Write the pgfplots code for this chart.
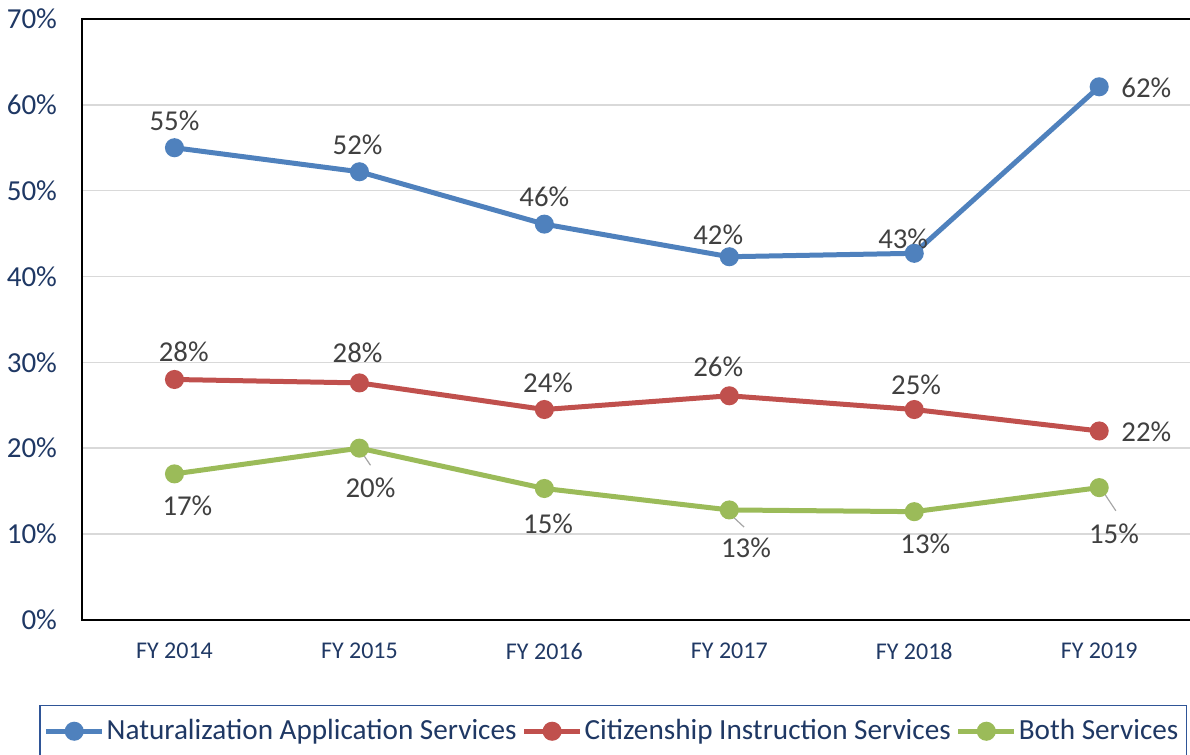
\documentclass[border=0pt]{standalone}
\usepackage{pgfplots}
\pgfplotsset{compat=1.18}
\usepackage{fontspec}
\setmainfont{Carlito}
\definecolor{cblue}{HTML}{4F81BD}
\definecolor{cred}{HTML}{C0504D}
\definecolor{cgreen}{HTML}{9BBB59}
\definecolor{navy}{HTML}{1F3864}
\definecolor{lblgray}{HTML}{404040}
\definecolor{gridgray}{HTML}{D9D9D9}
\definecolor{legborder}{HTML}{2F5597}
\tikzset{
    lbl/.style={font=\fontsize{14.4}{15}\selectfont, text=lblgray, inner sep=0pt},
    leader/.style={draw=gray!70, line width=0.6pt},
}
\begin{document}
\begin{tikzpicture}
\begin{axis}[
    scale only axis,
    width=555pt, height=300.5pt,
    xmin=-0.5, xmax=5.5, ymin=0, ymax=70,
    clip=false,
    /pgf/number format/assume math mode=true,
    xtick={0,1,2,3,4,5},
    xticklabels={FY 2014, FY 2015, FY 2016, FY 2017, FY 2018, FY 2019},
    ytick={0,10,...,70},
    yticklabel={\pgfmathprintnumber{\tick}\%},
    major tick length=0pt,
    ymajorgrids,
    grid style={draw=gridgray, line width=0.8pt},
    axis line style={black, line width=1pt},
    yticklabel style={font=\fontsize{14.5}{15}\selectfont, text=navy, xshift=-9pt},
    xticklabel style={font=\fontsize{12}{12}\selectfont, text=navy, yshift=-8pt},
    every axis plot/.append style={line width=2.5pt, mark=*, mark size=3.5pt},
    legend style={at={(rel axis cs:-0.0388,-0.1415)}, anchor=north west,
        legend columns=-1, draw=legborder, line width=0.8pt,
        font=\fontsize{14.6}{15}\selectfont, text=navy,
        inner xsep=2pt, inner ysep=5pt,
        /tikz/every odd column/.append style={column sep=-1pt},
        /tikz/every even column/.append style={column sep=0.5pt}},
    legend image code/.code={
        \draw[#1, mark=none] (0pt,0pt) -- (28pt,0pt);
        \draw[#1, only marks] plot coordinates {(14pt,0pt)};
    },
]
\addplot[cblue] coordinates {(0,55.0) (1,52.2) (2,46.1) (3,42.3) (4,42.7) (5,62.1)};
\addplot[cred] coordinates {(0,28.0) (1,27.6) (2,24.5) (3,26.1) (4,24.5) (5,22.0)};
\addplot[cgreen] coordinates {(0,17.0) (1,20.0) (2,15.3) (3,12.8) (4,12.6) (5,15.4)};
\legend{Naturalization Application Services, Citizenship Instruction Services, Both Services}

% data labels
\node[lbl] at (axis cs:0,58.1) {55\%};
\node[lbl] at (axis cs:0.99,55.3) {52\%};
\node[lbl] at (axis cs:2.0,49.3) {46\%};
\node[lbl] at (axis cs:2.94,44.8) {42\%};
\node[lbl] at (axis cs:3.94,44.4) {43\%};
\node[lbl] at (axis cs:5.255,62.0) {62\%};
\node[lbl] at (axis cs:0.05,31.2) {28\%};
\node[lbl] at (axis cs:0.99,31.1) {28\%};
\node[lbl] at (axis cs:2.02,27.6) {24\%};
\node[lbl] at (axis cs:2.94,29.5) {26\%};
\node[lbl] at (axis cs:4.01,27.4) {25\%};
\node[lbl] at (axis cs:5.255,21.9) {22\%};
\node[lbl] at (axis cs:0.07,13.3) {17\%};
\node[lbl] at (axis cs:1.06,15.4) {20\%};
\node[lbl] at (axis cs:2.02,11.2) {15\%};
\node[lbl] at (axis cs:3.09,8.4) {13\%};
\node[lbl] at (axis cs:4.06,8.9) {13\%};
\node[lbl] at (axis cs:5.08,10.0) {15\%};
% leader lines
\draw[leader] (axis cs:1.01,19.6) -- (axis cs:1.06,18.0);
\draw[leader] (axis cs:2.99,12.6) -- (axis cs:3.08,10.8);
\draw[leader] (axis cs:5.01,15.3) -- (axis cs:5.09,12.7);

\coordinate (bbsw) at (rel axis cs:-0.0739,-0.2246);
\coordinate (bbne) at (rel axis cs:0.9985,1.0316);
\end{axis}
\pgfresetboundingbox
\useasboundingbox (bbsw) rectangle (bbne);
\end{tikzpicture}
\end{document}
